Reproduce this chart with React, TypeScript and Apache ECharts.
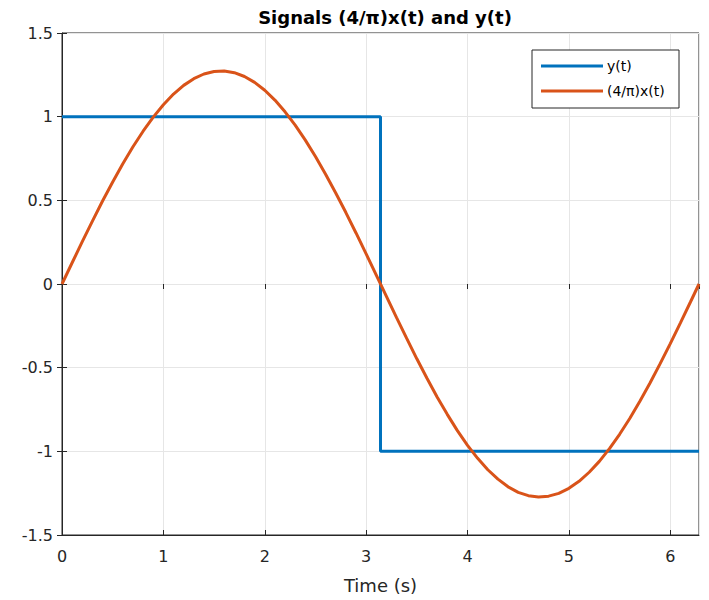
import React, { useEffect, useRef } from "react";
import * as echarts from "echarts";

const PI_VAL = 3.1416;
const TWO_PI_VAL = 6.2832;

// y(t): square wave points [t, value]
const squareT = [0, PI_VAL, PI_VAL, TWO_PI_VAL];
const squareY = [1, 1, -1, -1];

// (4/pi)x(t): samples
const sineT = [0, 0.1, 0.2, 0.3, 0.4, 0.5, 0.6, 0.7, 0.8, 0.9, 1.0, 1.1, 1.2, 1.3, 1.4, 1.5, 1.6, 1.7, 1.8, 1.9, 2.0, 2.1, 2.2, 2.3, 2.4, 2.5, 2.6, 2.7, 2.8, 2.9, 3.0, 3.1, 3.2, 3.3, 3.4, 3.5, 3.6, 3.7, 3.8, 3.9, 4.0, 4.1, 4.2, 4.3, 4.4, 4.5, 4.6, 4.7, 4.8, 4.9, 5.0, 5.1, 5.2, 5.3, 5.4, 5.5, 5.6, 5.7, 5.8, 5.9, 6.0, 6.1, 6.2, 6.2832];
const sineY = [0, 0.127, 0.253, 0.376, 0.496, 0.61, 0.719, 0.82, 0.913, 0.997, 1.071, 1.135, 1.187, 1.227, 1.255, 1.27, 1.273, 1.263, 1.24, 1.205, 1.158, 1.099, 1.029, 0.949, 0.86, 0.762, 0.656, 0.544, 0.427, 0.305, 0.18, 0.053, -0.074, -0.201, -0.325, -0.447, -0.563, -0.675, -0.779, -0.876, -0.964, -1.042, -1.11, -1.166, -1.212, -1.245, -1.265, -1.273, -1.268, -1.251, -1.221, -1.179, -1.125, -1.06, -0.984, -0.898, -0.804, -0.701, -0.592, -0.476, -0.356, -0.232, -0.106, 0];

const xTicks = [0, 1, 2, 3, 4, 5, 6];
const yTicks = [-1.5, -1, -0.5, 0, 0.5, 1, 1.5];

const seriesNames = ["y(t)", "(4/\u03c0)x(t)"];
const titleText = "Signals (4/\u03c0)x(t) and y(t)";
const xLabel = "Time (s)";

const FONT = "'DejaVu Sans', 'Liberation Sans', Arial, sans-serif";
const AX = "#262626";
const GRIDC = "#e6e6e6";

export default function App() {
  const ref = useRef<HTMLDivElement>(null);
  useEffect(() => {
    if (!ref.current) return;
    const chart = echarts.init(ref.current, null, { renderer: "svg" });
    const commonTick = { show: true, inside: true, length: 5, lineStyle: { color: AX, width: 1 } };
    chart.setOption({
      animation: false,
      backgroundColor: "#ffffff",
      textStyle: { fontFamily: FONT },
      title: {
        text: titleText,
        left: 380,
        textAlign: "center",
        top: 3,
        textStyle: { fontFamily: FONT, fontSize: 18, fontWeight: "bold", color: "#000" },
      },
      grid: { left: 62, right: 10, top: 33, bottom: 65, show: true, borderColor: AX, borderWidth: 1, backgroundColor: "#fff" },
      graphic: [
        {
          type: "rect",
          shape: { x: 532, y: 50, width: 147, height: 58 },
          style: { fill: "#fff", stroke: AX, lineWidth: 1 },
          z: 10,
        },
      ],
      legend: {
        data: seriesNames,
        orient: "vertical",
        left: 541,
        top: 59,
        padding: 0,
        itemWidth: 62,
        itemHeight: 3,
        itemGap: 11,
        icon: "rect",
        z: 20,
        textStyle: { fontFamily: FONT, fontSize: 14, lineHeight: 14, color: "#000", padding: [0, 0, 0, -1] },
      },
      xAxis: [
        {
          type: "value",
          min: 0,
          max: TWO_PI_VAL,
          interval: 1,
          name: xLabel,
          nameLocation: "middle",
          nameGap: 41,
          nameTextStyle: { fontFamily: FONT, fontSize: 18, color: AX },
          axisLine: { show: true, onZero: false, lineStyle: { color: AX, width: 1 } },
          axisTick: commonTick,
          axisLabel: {
            fontFamily: FONT,
            fontSize: 16,
            color: AX,
            margin: 13,
            showMaxLabel: false,
            formatter: (v: number) => (xTicks.includes(v) ? String(v) : ""),
          },
          splitLine: { show: true, lineStyle: { color: GRIDC, width: 1 } },
        },
        {
          type: "value",
          position: "top",
          min: 0,
          max: TWO_PI_VAL,
          interval: 1,
          axisLine: { show: false },
          axisTick: commonTick,
          axisLabel: { show: false },
          splitLine: { show: false },
        },
      ],
      yAxis: [
        {
          type: "value",
          min: -1.5,
          max: 1.5,
          interval: 0.5,
          axisLine: { show: true, onZero: false, lineStyle: { color: AX, width: 1 } },
          axisTick: commonTick,
          axisLabel: {
            fontFamily: FONT,
            fontSize: 16,
            color: AX,
            margin: 9,
            formatter: (v: number) => (yTicks.includes(v) ? String(v) : ""),
          },
          splitLine: { show: true, lineStyle: { color: GRIDC, width: 1 } },
        },
        {
          type: "value",
          position: "right",
          min: -1.5,
          max: 1.5,
          interval: 0.5,
          axisLine: { show: false },
          axisTick: commonTick,
          axisLabel: { show: false },
          splitLine: { show: false },
        },
      ],
      series: [
        {
          name: seriesNames[0],
          type: "line",
          showSymbol: false,
          symbol: "none",
          data: squareT.map((t, i) => [t, squareY[i]]),
          lineStyle: { color: "#0072BD", width: 3 },
          itemStyle: { color: "#0072BD" },
          z: 3,
        },
        {
          name: seriesNames[1],
          type: "line",
          showSymbol: false,
          symbol: "none",
          data: sineT.map((t, i) => [t, sineY[i]]),
          lineStyle: { color: "#D95319", width: 3 },
          itemStyle: { color: "#D95319" },
          z: 4,
        },
      ],
    });
    return () => chart.dispose();
  }, []);
  return <div ref={ref} style={{ width: 709, height: 600, position: "absolute", left: 0, top: 0 }} />;
}
